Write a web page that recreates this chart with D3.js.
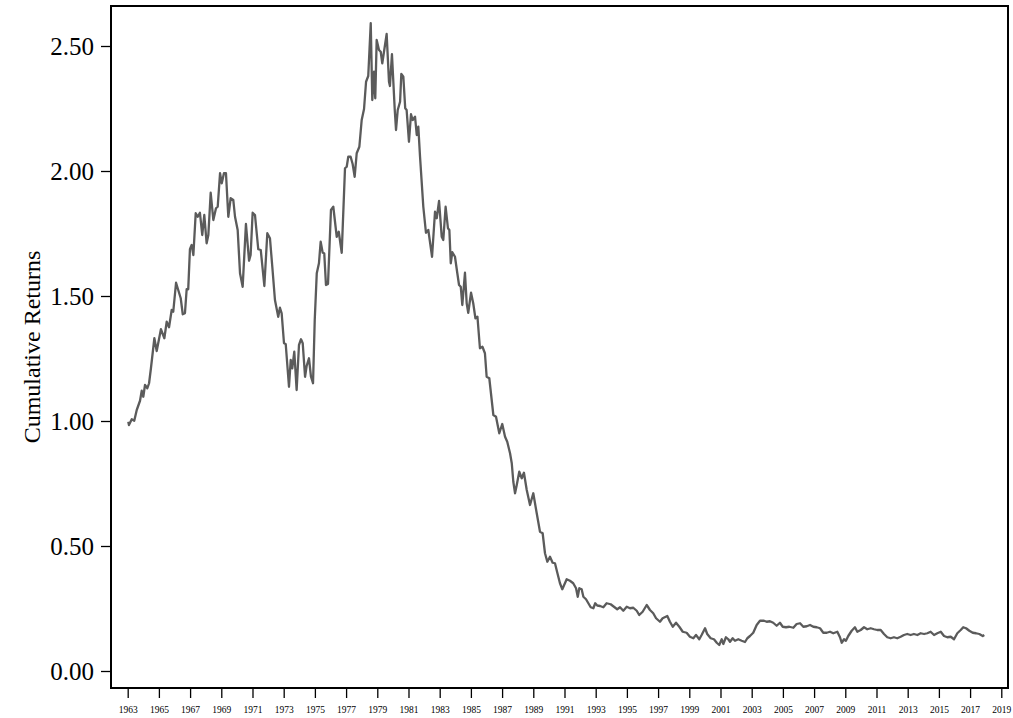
<!DOCTYPE html>
<html>
<head>
<meta charset="utf-8">
<script src="https://cdn.jsdelivr.net/npm/d3@7"></script>
<style>
  html, body { margin: 0; padding: 0; background: #fff; }
</style>
</head>
<body>
<div id="container"></div>
<script>
// decimal year of each reading
const dates = [
  1963.04, 1963.08, 1963.26, 1963.42, 1963.58, 1963.79, 1963.90, 1964.00, 1964.11, 1964.26,
  1964.37, 1964.49, 1964.71, 1964.86, 1965.13, 1965.35, 1965.50, 1965.65, 1965.82, 1965.92,
  1966.10, 1966.24, 1966.40, 1966.53, 1966.67, 1966.78, 1966.88, 1966.99, 1967.10, 1967.21,
  1967.36, 1967.49, 1967.63, 1967.78, 1967.91, 1968.06, 1968.17, 1968.32, 1968.49, 1968.66,
  1968.77, 1968.92, 1969.03, 1969.17, 1969.30, 1969.45, 1969.60, 1969.77, 1969.88, 1970.05,
  1970.20, 1970.37, 1970.58, 1970.78, 1970.88, 1971.01, 1971.16, 1971.37, 1971.53, 1971.76,
  1971.95, 1972.12, 1972.27, 1972.44, 1972.65, 1972.76, 1972.87, 1973.02, 1973.13, 1973.34,
  1973.45, 1973.55, 1973.68, 1973.83, 1973.98, 1974.11, 1974.22, 1974.37, 1974.47, 1974.62,
  1974.75, 1974.88, 1974.99, 1975.12, 1975.26, 1975.37, 1975.50, 1975.60, 1975.71, 1975.84,
  1976.03, 1976.18, 1976.40, 1976.53, 1976.72, 1976.93, 1977.04, 1977.14, 1977.29, 1977.42,
  1977.55, 1977.68, 1977.85, 1978.00, 1978.15, 1978.28, 1978.42, 1978.58, 1978.68, 1978.79,
  1978.87, 1978.96, 1979.11, 1979.22, 1979.32, 1979.43, 1979.60, 1979.75, 1979.81, 1979.94,
  1980.12, 1980.20, 1980.31, 1980.46, 1980.54, 1980.67, 1980.79, 1980.88, 1981.03, 1981.16,
  1981.27, 1981.42, 1981.53, 1981.63, 1981.74, 1981.95, 1982.12, 1982.27, 1982.51, 1982.70,
  1982.81, 1982.96, 1983.13, 1983.23, 1983.38, 1983.53, 1983.62, 1983.71, 1983.81, 1983.98,
  1984.13, 1984.24, 1984.35, 1984.45, 1984.62, 1984.73, 1984.83, 1985.01, 1985.15, 1985.29,
  1985.42, 1985.58, 1985.74, 1985.90, 1986.01, 1986.18, 1986.44, 1986.61, 1986.82, 1987.01,
  1987.19, 1987.33, 1987.51, 1987.62, 1987.72, 1987.83, 1987.94, 1988.10, 1988.26, 1988.40,
  1988.58, 1988.79, 1989.00, 1989.22, 1989.43, 1989.60, 1989.75, 1989.90, 1990.07, 1990.24,
  1990.39, 1990.54, 1990.71, 1990.86, 1991.14, 1991.35, 1991.56, 1991.74, 1991.85, 1991.95,
  1992.10, 1992.21, 1992.38, 1992.53, 1992.68, 1992.85, 1992.97, 1993.10, 1993.28, 1993.49,
  1993.70, 1993.96, 1994.17, 1994.38, 1994.56, 1994.77, 1994.99, 1995.20, 1995.41, 1995.63,
  1995.79, 1996.01, 1996.27, 1996.48, 1996.69, 1996.87, 1997.12, 1997.29, 1997.59, 1997.76,
  1997.94, 1998.15, 1998.36, 1998.58, 1998.83, 1999.04, 1999.26, 1999.43, 1999.64, 1999.79,
  2000.01, 2000.15, 2000.37, 2000.58, 2000.76, 2000.92, 2001.08, 2001.18, 2001.35, 2001.50,
  2001.61, 2001.78, 2001.93, 2002.14, 2002.36, 2002.57, 2002.72, 2002.89, 2003.10, 2003.32,
  2003.53, 2003.79, 2003.96, 2004.17, 2004.38, 2004.60, 2004.81, 2004.99, 2005.20, 2005.41,
  2005.67, 2005.88, 2006.10, 2006.31, 2006.53, 2006.74, 2006.95, 2007.17, 2007.38, 2007.59,
  2007.81, 2008.02, 2008.23, 2008.49, 2008.66, 2008.77, 2008.92, 2009.04, 2009.19, 2009.41,
  2009.62, 2009.77, 2009.99, 2010.20, 2010.41, 2010.63, 2010.84, 2011.05, 2011.27, 2011.48,
  2011.69, 2011.91, 2012.12, 2012.33, 2012.55, 2012.76, 2012.97, 2013.19, 2013.40, 2013.62,
  2013.83, 2014.05, 2014.26, 2014.47, 2014.69, 2014.90, 2015.12, 2015.33, 2015.54, 2015.76,
  2015.97, 2016.18, 2016.40, 2016.56, 2016.74, 2016.95, 2017.17, 2017.38, 2017.59, 2017.81,
  2017.91
];

// cumulative returns
const cumReturns = [
  0.997, 0.984, 1.007, 1.001, 1.044, 1.081, 1.121, 1.097, 1.144, 1.131,
  1.151, 1.211, 1.331, 1.280, 1.367, 1.331, 1.397, 1.375, 1.444, 1.437,
  1.553, 1.524, 1.491, 1.427, 1.431, 1.527, 1.527, 1.687, 1.704, 1.664,
  1.831, 1.817, 1.833, 1.744, 1.824, 1.711, 1.744, 1.913, 1.804, 1.851,
  1.857, 1.991, 1.951, 1.991, 1.991, 1.817, 1.891, 1.884, 1.817, 1.764,
  1.591, 1.537, 1.788, 1.641, 1.664, 1.833, 1.824, 1.687, 1.684, 1.540,
  1.751, 1.731, 1.617, 1.484, 1.417, 1.453, 1.431, 1.311, 1.308, 1.137,
  1.244, 1.211, 1.277, 1.124, 1.304, 1.327, 1.311, 1.177, 1.220, 1.251,
  1.177, 1.151, 1.404, 1.591, 1.631, 1.717, 1.673, 1.671, 1.544, 1.548,
  1.844, 1.857, 1.737, 1.757, 1.673, 2.011, 2.017, 2.057, 2.057, 2.028,
  1.977, 2.071, 2.097, 2.204, 2.248, 2.357, 2.380, 2.591, 2.284, 2.397,
  2.291, 2.524, 2.484, 2.477, 2.431, 2.477, 2.548, 2.357, 2.340, 2.467,
  2.244, 2.164, 2.244, 2.277, 2.388, 2.377, 2.251, 2.244, 2.117, 2.227,
  2.204, 2.217, 2.144, 2.177, 2.057, 1.857, 1.753, 1.764, 1.657, 1.837,
  1.811, 1.880, 1.737, 1.724, 1.857, 1.771, 1.764, 1.631, 1.675, 1.657,
  1.591, 1.544, 1.537, 1.464, 1.593, 1.471, 1.433, 1.513, 1.471, 1.411,
  1.417, 1.291, 1.297, 1.271, 1.177, 1.171, 1.024, 1.017, 0.951, 0.988,
  0.937, 0.917, 0.871, 0.831, 0.757, 0.711, 0.744, 0.797, 0.771, 0.793,
  0.724, 0.664, 0.711, 0.631, 0.557, 0.551, 0.471, 0.437, 0.457, 0.433,
  0.431, 0.393, 0.351, 0.327, 0.367, 0.361, 0.351, 0.331, 0.297, 0.331,
  0.327, 0.297, 0.287, 0.271, 0.255, 0.251, 0.271, 0.262, 0.260, 0.255,
  0.271, 0.267, 0.257, 0.247, 0.255, 0.241, 0.257, 0.251, 0.253, 0.241,
  0.224, 0.237, 0.264, 0.244, 0.231, 0.211, 0.197, 0.211, 0.220, 0.197,
  0.177, 0.193, 0.177, 0.157, 0.153, 0.137, 0.131, 0.144, 0.127, 0.144,
  0.171, 0.148, 0.131, 0.127, 0.113, 0.104, 0.127, 0.108, 0.135, 0.127,
  0.117, 0.131, 0.121, 0.127, 0.121, 0.116, 0.131, 0.140, 0.153, 0.184,
  0.201, 0.201, 0.197, 0.199, 0.193, 0.181, 0.193, 0.177, 0.175, 0.177,
  0.173, 0.188, 0.191, 0.177, 0.179, 0.184, 0.177, 0.175, 0.171, 0.153,
  0.153, 0.157, 0.151, 0.157, 0.135, 0.113, 0.127, 0.121, 0.140, 0.161,
  0.175, 0.157, 0.164, 0.175, 0.167, 0.171, 0.167, 0.164, 0.164, 0.148,
  0.135, 0.131, 0.135, 0.131, 0.137, 0.144, 0.148, 0.144, 0.148, 0.144,
  0.151, 0.148, 0.151, 0.157, 0.144, 0.151, 0.157, 0.140, 0.135, 0.137,
  0.127, 0.151, 0.164, 0.175, 0.171, 0.161, 0.153, 0.151, 0.148, 0.140,
  0.144
];

const yTicks = [0, 0.5, 1.0, 1.5, 2.0, 2.5];
const xTicks = d3.range(1963, 2020, 2); // every other year, 1963..2019

function main(container) {
  const sel = d3.select(container);
  const width = 1013;
  const height = 718;
  const margin = { top: 6, right: 5, bottom: 30, left: 111 };
  const innerW = width - margin.left - margin.right;
  const innerH = height - margin.top - margin.bottom;
  const serif = "'Liberation Serif', 'Times New Roman', Times, serif";

  sel.selectAll("svg").remove();

  const svg = sel
    .append("svg")
    .attr("width", width)
    .attr("height", height);

  const g = svg
    .append("g")
    .attr("transform", `translate(${margin.left},${margin.top})`);

  const x = d3.scaleLinear().domain([1961.93, 2019.43]).range([0, innerW]);
  const y = d3.scaleLinear().domain([-0.068, 2.66]).range([innerH, 0]);

  const points = dates.map((d, i) => ({ year: d, value: cumReturns[i] }));

  // line
  const line = d3
    .line()
    .x((d) => x(d.year))
    .y((d) => y(d.value));

  g.append("path")
    .datum(points)
    .attr("fill", "none")
    .attr("stroke", "#5b5b5b")
    .attr("stroke-width", 2.3)
    .attr("stroke-linejoin", "round")
    .attr("d", line);

  // y axis
  const yAxis = g
    .append("g")
    .call(
      d3
        .axisLeft(y)
        .tickValues(yTicks)
        .tickFormat(d3.format(".2f"))
        .tickSize(10)
        .tickPadding(7)
        .tickSizeOuter(0)
    );
  yAxis.select(".domain").remove();
  yAxis.selectAll("line").attr("stroke", "#000").attr("stroke-width", 1.3);
  yAxis
    .selectAll("text")
    .attr("font-family", serif)
    .attr("font-size", "25px")
    .attr("fill", "#000");

  // x axis
  const xAxis = g
    .append("g")
    .attr("transform", `translate(0,${innerH})`)
    .call(
      d3
        .axisBottom(x)
        .tickValues(xTicks)
        .tickFormat(d3.format("d"))
        .tickSize(10)
        .tickPadding(8)
        .tickSizeOuter(0)
    );
  xAxis.select(".domain").remove();
  xAxis.selectAll("line").attr("stroke", "#000").attr("stroke-width", 1.3);
  xAxis
    .selectAll("text")
    .attr("font-family", serif)
    .attr("font-size", "9.5px")
    .attr("fill", "#000");

  // frame around the plot
  g.append("rect")
    .attr("x", 0)
    .attr("y", 0)
    .attr("width", innerW)
    .attr("height", innerH)
    .attr("fill", "none")
    .attr("stroke", "#000")
    .attr("stroke-width", 2);

  // y label
  svg
    .append("text")
    .attr("transform", `translate(40,${margin.top + innerH / 2}) rotate(-90)`)
    .attr("text-anchor", "middle")
    .attr("font-family", serif)
    .attr("font-size", "24px")
    .attr("fill", "#000")
    .text("Cumulative Returns");
}

main(document.getElementById("container"));
</script>
</body>
</html>
